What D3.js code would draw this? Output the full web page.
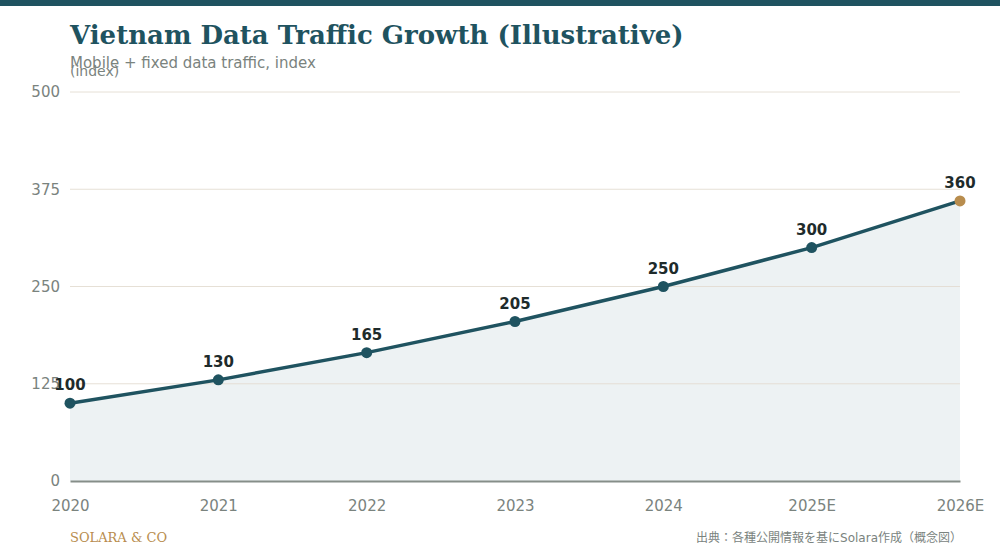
<!DOCTYPE html>
<html>
<head>
<meta charset="utf-8">
<script src="https://cdn.jsdelivr.net/npm/d3@7"></script>
<style>
  html, body { margin: 0; padding: 0; background: #fff; }
  svg { display: block; }
</style>
</head>
<body>
<svg id="chart" width="1000" height="560"></svg>
<script>
"use strict";

// data
const years = ['2020', '2021', '2022', '2023', '2024', '2025E', '2026E'];
const traffic = [100, 130, 165, 205, 250, 300, 360];
const yTicks = [0, 125, 250, 375, 500];

const W = 1000, H = 560;
const margin = { top: 92, right: 40, bottom: 79, left: 70 };
const teal = '#1f5360';
const gold = '#b88d4e';
const grey = '#7a837e';

const svg = d3.select('#chart');

// top band
svg.append('rect').attr('x', 0).attr('y', 0).attr('width', W).attr('height', 6).attr('fill', teal);

// titles
svg.append('text')
  .attr('x', 70).attr('y', 44)
  .style('font-family', '"DejaVu Serif", serif')
  .style('font-weight', 'bold')
  .style('font-size', '26px')
  .attr('fill', teal)
  .text('Vietnam Data Traffic Growth (Illustrative)');

svg.append('text')
  .attr('x', 70).attr('y', 68)
  .style('font-family', '"DejaVu Sans", sans-serif')
  .style('font-size', '15px')
  .attr('fill', grey)
  .text('Mobile + fixed data traffic, index');

svg.append('text')
  .attr('x', 70).attr('y', 76)
  .style('font-family', '"DejaVu Sans", sans-serif')
  .style('font-size', '14px')
  .attr('fill', grey)
  .text('(index)');

// scales
const x = d3.scalePoint().domain(years).range([margin.left, W - margin.right]);
const y = d3.scaleLinear().domain([0, 500]).range([H - margin.bottom, margin.top]);

const pts = years.map((yr, i) => ({ year: yr, value: traffic[i] }));

// area
const area = d3.area()
  .x(d => x(d.year))
  .y0(y(0))
  .y1(d => y(d.value));

svg.append('path')
  .datum(pts)
  .attr('d', area)
  .attr('fill', teal)
  .attr('fill-opacity', 0.08);

// gridlines
svg.append('g')
  .selectAll('line')
  .data(yTicks.filter(t => t > 0))
  .join('line')
  .attr('x1', margin.left).attr('x2', W - margin.right)
  .attr('y1', d => y(d)).attr('y2', d => y(d))
  .attr('stroke', '#e2dbcf')
  .attr('stroke-opacity', 0.85)
  .attr('stroke-width', 1);

// y axis labels
const yAxis = d3.axisLeft(y).tickValues(yTicks).tickSize(0).tickPadding(10);
const gy = svg.append('g').attr('transform', `translate(${margin.left},0)`).call(yAxis);
gy.select('.domain').remove();
gy.selectAll('text')
  .style('font-family', '"DejaVu Sans", sans-serif')
  .style('font-size', '15px')
  .attr('fill', grey);

// x axis
const xAxis = d3.axisBottom(x).tickSize(0).tickPadding(19);
const gx = svg.append('g').attr('transform', `translate(0,${y(0)})`).call(xAxis);
gx.select('.domain').attr('stroke', '#868e89').attr('stroke-width', 2);
gx.selectAll('text')
  .style('font-family', '"DejaVu Sans", sans-serif')
  .style('font-size', '15px')
  .attr('fill', grey);

// line
const line = d3.line().x(d => x(d.year)).y(d => y(d.value));
svg.append('path')
  .datum(pts)
  .attr('d', line)
  .attr('fill', 'none')
  .attr('stroke', teal)
  .attr('stroke-width', 3.5);

// points
svg.append('g')
  .selectAll('circle')
  .data(pts)
  .join('circle')
  .attr('cx', d => x(d.year))
  .attr('cy', d => y(d.value))
  .attr('r', 5.5)
  .attr('fill', (d, i) => i === pts.length - 1 ? gold : teal);

// value labels
svg.append('g')
  .selectAll('text')
  .data(pts)
  .join('text')
  .attr('x', d => x(d.year))
  .attr('y', d => y(d.value) - 13)
  .attr('text-anchor', 'middle')
  .style('font-family', '"DejaVu Sans", sans-serif')
  .style('font-weight', 'bold')
  .style('font-size', '15px')
  .attr('fill', '#1e2b2b')
  .text(d => d.value);

// footer
svg.append('text')
  .attr('x', 70).attr('y', 542)
  .style('font-family', '"DejaVu Serif", serif')
  .style('font-size', '13px')
  .attr('fill', gold)
  .text('SOLARA & CO');

svg.append('text')
  .attr('x', 962).attr('y', 542)
  .attr('text-anchor', 'end')
  .style('font-family', '"DejaVu Sans", "Noto Sans CJK JP", sans-serif')
  .style('font-size', '12px')
  .attr('fill', grey)
  .text('出典：各種公開情報を基にSolara作成（概念図）');
</script>
</body>
</html>
